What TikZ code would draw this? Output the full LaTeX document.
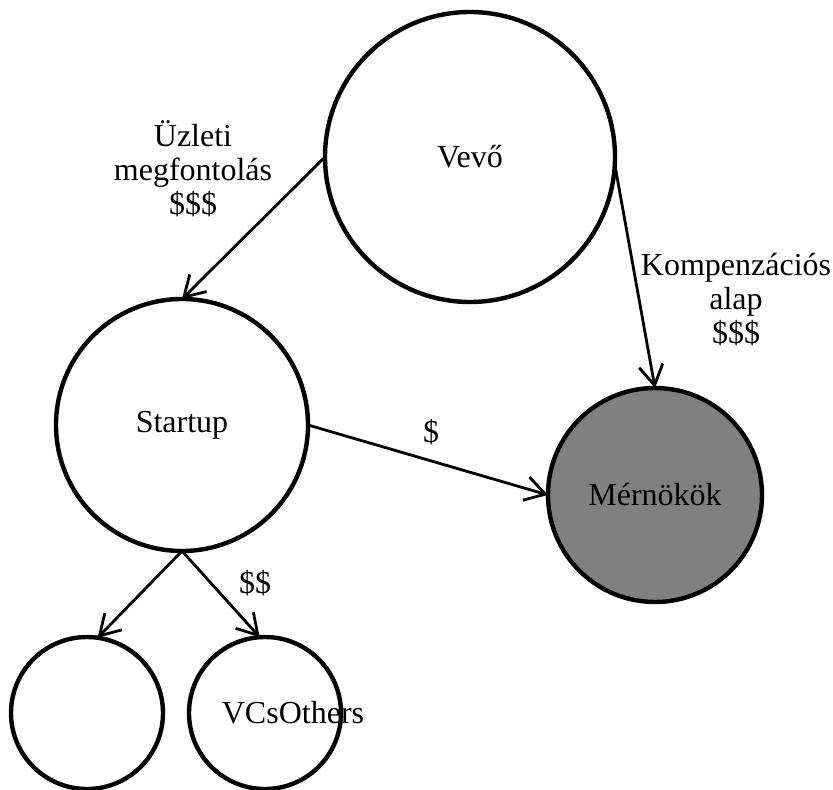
\documentclass[tikz,border=0pt]{standalone}
\usepackage{fontspec}
\setmainfont{Liberation Serif}
\usetikzlibrary{arrows.meta}
\definecolor{darkfill}{RGB}{128,128,128}
\begin{document}
\begin{tikzpicture}[x=0.5pt,y=-0.5pt,
  every node/.style={font=\fontsize{16}{17}\selectfont},
  circ/.style={circle,draw,line width=2.2pt,inner sep=0pt,outer sep=0pt,fill=white},
  conn/.style={line width=1.4pt,-{Straight Barb[length=10pt,width=12pt]}},
  lbl/.style={align=center,inner sep=0pt}]
\useasboundingbox (0,0) rectangle (833,790);
\node[circ,minimum size=145pt] (vevo) at (470,157) {Vevő};
\node[circ,minimum size=126pt] (startup) at (182,425) {Startup};
\node[circ,minimum size=107pt,fill=darkfill] (mern) at (655,495) {Mérnökök};
\node[circ,minimum size=76pt] (left) at (87,713) {};
\node[circ,minimum size=76pt,label={[xshift=14pt]center:VCsOthers}] (vcs) at (265,713) {};
\draw[conn] (vevo.-3) -- (mern.north);
\draw[conn] (vevo.west) -- (startup.north);
\draw[conn] (startup.east) -- (mern.west);
\draw[conn] (startup.south) -- (left.82);
\draw[conn] (startup.south) -- (vcs.94);
\node[lbl] (l1) at (193,169) {Üzleti\\megfontolás\\\$\$\$};
\node[lbl] (l2) at (736,300) {Kompenzációs\\alap\\\$\$\$};
\node[lbl] (l3) at (431,432) {\$};
\node[lbl] (l4) at (255,583) {\$\$};
\end{tikzpicture}
\end{document}
